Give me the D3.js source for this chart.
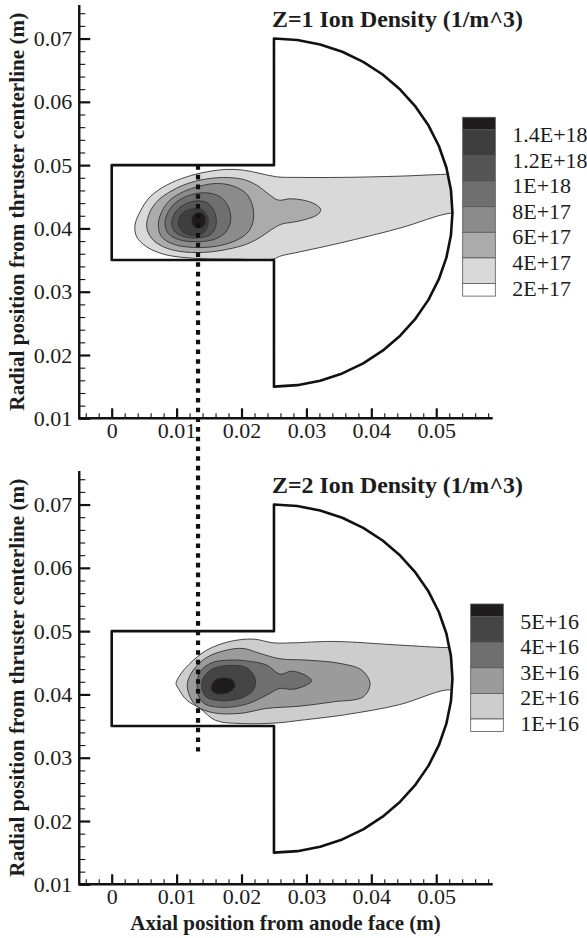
<!DOCTYPE html>
<html>
<head>
<meta charset="utf-8">
<script src="https://cdn.jsdelivr.net/npm/d3@7"></script>
<style>
  html, body { margin: 0; padding: 0; background: #fff; }
  text { font-family: "Liberation Serif", "Times New Roman", serif; fill: #1c1c1c; }
</style>
</head>
<body>
<svg id="chart" width="587" height="938"></svg>
<script>
// ---------- axes (metres) ----------
const xDomain = [-0.005, 0.0587];
const yDomain = [0.01, 0.0753];
const xMajorTicks = [0, 0.01, 0.02, 0.03, 0.04, 0.05];
const xTickLabels = ["0", "0.01", "0.02", "0.03", "0.04", "0.05"];
const xMinorTicks = [-0.004, -0.002, 0.002, 0.004, 0.006, 0.008, 0.012, 0.014, 0.016, 0.018,
  0.022, 0.024, 0.026, 0.028, 0.032, 0.034, 0.036, 0.038, 0.042, 0.044, 0.046, 0.048,
  0.052, 0.054, 0.056, 0.058];
const yMajorTicks = [0.01, 0.02, 0.03, 0.04, 0.05, 0.06, 0.07];
const yTickLabels = ["0.01", "0.02", "0.03", "0.04", "0.05", "0.06", "0.07"];
const yMinorTicks = [0.012, 0.014, 0.016, 0.018, 0.022, 0.024, 0.026, 0.028, 0.032, 0.034,
  0.036, 0.038, 0.042, 0.044, 0.046, 0.048, 0.052, 0.054, 0.056, 0.058, 0.062, 0.064,
  0.066, 0.068, 0.072, 0.074];

// ---------- thruster channel + plume region (mm) ----------
const channelWall = [[25, 70], [25, 50], [0, 50], [0, 35], [25, 35], [25, 15]];
const plumeCenter = [25, 42.5];
const plumeRadius = 27.5;

// probe line (m)
const probeX = 0.0133;
const probeTopY = 0.050;     // upper panel
const probeBottomY = 0.031;  // lower panel

// ---------- Z=1 ion density ----------
const z1Levels = [2e17, 4e17, 6e17, 8e17, 1e18, 1.2e18, 1.4e18];
const z1Labels = ["2E+17", "4E+17", "6E+17", "8E+17", "1E+18", "1.2E+18", "1.4E+18"];
const z1Fills = ["#ffffff", "#d9d9d9", "#ababab", "#8b8b8b", "#6f6f6f", "#555555", "#3e3e3e", "#1f1c1d"];
// iso-outlines (mm), one closed ring per level, outer to inner
const z1Iso = [
  [[3.59,40.52],[4.36,42.62],[5.90,44.99],[8.47,46.84],[11.56,48.15],[14.64,48.94],[17.72,49.32],
   [20.28,49.21],[22.85,48.69],[25.42,48.15],[29.0,48.06],[35.2,48.06],[44.4,48.26],[51.4,48.55],
   [55,48.6],[55,42.3],[52.1,42.4],[44.4,40.05],[35.2,37.7],[29.0,36.3],[25.9,35.6],[24.9,35.15],
   [18.7,35.15],[14.6,35.2],[11.0,35.42],[7.95,35.94],[5.39,37.09],[3.85,38.67]],
  [[5.39,40.26],[5.90,42.63],[7.18,44.47],[8.98,45.79],[11.03,46.84],[13.61,47.63],[17.2,48.05],
   [20.28,47.74],[22.34,46.84],[24.39,45.26],[25.67,44.47],[27.47,44.68],[29.52,44.47],[31.33,43.84],
   [32.2,43.0],[31.83,42.26],[30.05,41.47],[27.98,41.0],[26.19,40.68],[24.65,39.84],[22.85,38.58],
   [20.8,37.52],[17.72,36.68],[14.11,36.21],[10.52,36.37],[7.95,37.1],[6.16,38.42]],
  [[7.18,40.52],[7.7,42.63],[8.98,44.47],[11.03,45.79],[13.61,46.68],[16.18,47.1],[18.74,46.68],
   [20.8,45.42],[21.73,43.42],[21.82,41.31],[21.05,39.47],[19.26,38.15],[16.18,37.2],[12.57,37.0],
   [9.49,37.52],[7.7,38.67]],
  [[8.21,40.79],[8.72,42.63],[10.02,44.2],[12.06,45.26],[14.64,45.63],[16.69,45.0],[17.97,43.42],
   [18.34,41.31],[17.61,39.47],[15.92,38.31],[13.1,37.89],[10.26,38.26],[8.72,39.21]],
  [[9.24,40.79],[9.75,42.47],[11.03,43.68],[13.1,44.36],[14.88,43.95],[15.92,42.37],[16.07,40.52],
   [15.25,39.05],[13.34,38.52],[11.29,38.67],[9.75,39.47]],
  [[10.26,41.04],[10.79,42.26],[12.06,43.0],[13.87,43.0],[14.79,41.83],[14.73,40.16],[13.87,39.1],
   [12.06,38.94],[10.79,39.62]],
  [[12.37,41.58],[12.73,42.26],[13.61,42.53],[14.33,42.1],[14.48,41.04],[14.11,40.25],[13.25,40.05],
   [12.48,40.52]]
];

// ---------- Z=2 ion density ----------
const z2Levels = [1e16, 2e16, 3e16, 4e16, 5e16];
const z2Labels = ["1E+16", "2E+16", "3E+16", "4E+16", "5E+16"];
const z2Fills = ["#ffffff", "#cdcdcd", "#9b9b9b", "#6f6f6f", "#454545", "#1f1c1d"];
const z2Iso = [
  [[9.91,41.73],[10.52,43.05],[12.06,44.9],[14.64,47.0],[18.23,48.37],[21.82,48.74],[24.9,48.15],
   [27.98,48.15],[34.15,48.37],[44.42,47.79],[51.5,47.4],[55,47.4],[55,40.6],[51.5,40.7],[44.4,38.4],
   [36.0,36.8],[29.0,35.9],[25.5,35.5],[20.0,35.4],[16.0,35.9],[13.61,37.79],[11.56,39.1],[10.26,40.95]],
  [[11.65,41.73],[12.57,43.84],[14.64,45.85],[17.72,47.0],[20.28,47.26],[22.85,46.48],[25.93,45.63],
   [30.05,45.42],[35.18,44.9],[38.52,43.84],[39.8,41.73],[38.77,39.63],[34.15,38.83],[29.01,38.15],
   [23.88,37.79],[19.77,37.0],[15.66,37.1],[13.1,38.15],[11.96,39.89]],
  [[13.19,41.73],[13.61,43.58],[15.41,45.0],[18.23,45.42],[21.05,45.26],[23.88,44.63],[25.93,43.21],
   [27.74,43.68],[29.78,43.05],[30.82,42.15],[29.63,41.31],[27.74,40.79],[25.93,40.95],[23.88,39.89],
   [20.8,38.47],[17.2,37.95],[14.38,38.47],[13.34,39.89]],
  [[13.87,41.21],[14.22,42.79],[15.66,44.1],[18.23,44.58],[20.8,44.21],[22.08,42.53],[21.82,40.68],
   [19.77,39.36],[16.69,39.0],[14.53,39.63]],
  [[15.3,41.1],[15.92,42.26],[17.2,42.63],[18.64,42.26],[19.0,41.31],[18.23,40.42],[16.69,40.05],
   [15.56,40.42]]
];

// ---------- drawing ----------
const svg = d3.select("#chart");
svg.append("rect").attr("width", 587).attr("height", 938).attr("fill", "#fff");
const defs = svg.append("defs");
const mm = v => v / 1000;

// boundary of the computational region: channel walls followed by the plume arc
function regionOutline() {
  const pts = channelWall.slice();
  const n = 24;
  for (let k = 1; k <= n; k++) {
    const a = -Math.PI / 2 + Math.PI * k / n;
    pts.push([plumeCenter[0] + plumeRadius * Math.cos(a), plumeCenter[1] + plumeRadius * Math.sin(a)]);
  }
  return pts;
}

const plotLeft = 79.25, plotRight = 492.7, plotH = 413.3;

function drawPanel(cfg) {
  const g = svg.append("g");
  const x = d3.scaleLinear().domain(xDomain).range([plotLeft, plotRight]);
  const y = d3.scaleLinear().domain(yDomain).range([cfg.bottom, cfg.bottom - plotH]);
  const poly = d3.line().x(d => x(mm(d[0]))).y(d => y(mm(d[1])));
  const smooth = d3.line().curve(d3.curveCatmullRomClosed.alpha(0.5))
    .x(d => x(mm(d[0]))).y(d => y(mm(d[1])));

  const outline = regionOutline();
  defs.append("clipPath").attr("id", "clip-" + cfg.id)
    .append("path").attr("d", poly(outline) + "Z");

  // filled contour bands, outer level first
  const cg = g.append("g").attr("clip-path", `url(#clip-${cfg.id})`);
  cfg.iso.forEach((ring, i) => {
    cg.append("path").attr("d", smooth(ring))
      .attr("fill", cfg.fills[i + 1])
      .attr("stroke", "#333").attr("stroke-width", 0.9);
  });

  // region boundary
  g.append("path").attr("d", poly(outline) + "Z")
    .attr("fill", "none").attr("stroke", "#111").attr("stroke-width", 2.6)
    .attr("stroke-linejoin", "round");

  // axes
  const y0 = y(yDomain[0]);
  const xAxis = d3.axisBottom(x).tickValues(xMajorTicks).tickSize(-10).tickSizeOuter(0)
    .tickPadding(4).tickFormat((d, i) => xTickLabels[i]);
  const xMinor = d3.axisBottom(x).tickValues(xMinorTicks).tickSize(-5).tickSizeOuter(0).tickFormat("");
  const yAxis = d3.axisLeft(y).tickValues(yMajorTicks).tickSize(-11).tickSizeOuter(0)
    .tickPadding(7).tickFormat((d, i) => yTickLabels[i]);
  const yMinor = d3.axisLeft(y).tickValues(yMinorTicks).tickSize(-6).tickSizeOuter(0).tickFormat("");

  [[xMinor, `translate(0,${y0})`, 1.1], [xAxis, `translate(0,${y0})`, 2.2],
   [yMinor, `translate(${plotLeft},0)`, 1.1], [yAxis, `translate(${plotLeft},0)`, 2.2]]
    .forEach(([ax, tr, w]) => {
      const a = g.append("g").attr("transform", tr).call(ax);
      a.select(".domain").remove();
      a.selectAll("line").attr("stroke", "#111").attr("stroke-width", w);
      a.selectAll("text").attr("font-size", 22).attr("fill", "#1c1c1c")
        .attr("font-family", '"Liberation Serif", "Times New Roman", serif');
    });
  g.append("line").attr("x1", plotLeft).attr("x2", plotRight).attr("y1", y0).attr("y2", y0)
    .attr("stroke", "#111").attr("stroke-width", 2.4);
  g.append("line").attr("x1", plotLeft).attr("x2", plotLeft)
    .attr("y1", y0 + 1.2).attr("y2", cfg.bottom - plotH)
    .attr("stroke", "#111").attr("stroke-width", 2.4);

  // y-axis title
  g.append("text")
    .attr("transform", `translate(24,${cfg.bottom - plotH / 2}) rotate(-90)`)
    .attr("text-anchor", "middle").attr("font-weight", "bold").attr("font-size", 21)
    .attr("textLength", 398).attr("lengthAdjust", "spacingAndGlyphs")
    .text("Radial position from thruster centerline (m)");

  // panel title
  g.append("text").attr("x", 272).attr("y", cfg.bottom - 391.5)
    .attr("font-weight", "bold").attr("font-size", 23)
    .attr("textLength", 251).attr("lengthAdjust", "spacingAndGlyphs")
    .text(cfg.title);

  // legend: half band at each end, full bands between levels
  const n = cfg.levels.length;
  const bandH = 25.6, half = 12.6;
  const lx = cfg.legendX, ly = cfg.legendTop;
  const lg = g.append("g");
  for (let b = 0; b <= n; b++) {
    // b = 0 is the darkest band (above the highest level)
    const t = b === 0 ? ly : ly + half + (b - 1) * bandH;
    const h = (b === 0 || b === n) ? half : bandH;
    lg.append("rect").attr("x", lx).attr("y", t).attr("width", 32.6).attr("height", h)
      .attr("fill", cfg.fills[n - b]).attr("stroke", "#555").attr("stroke-width", 0.8);
  }
  cfg.labels.slice().reverse().forEach((lab, k) => {
    lg.append("text").attr("x", lx + 49.5).attr("y", ly + half + k * bandH + 12)
      .attr("font-size", 22).text(lab);
  });

  return { x, y };
}

const upperPanel = drawPanel({
  id: "z1", bottom: 418.3, title: "Z=1 Ion Density (1/m^3)",
  levels: z1Levels, labels: z1Labels, fills: z1Fills, iso: z1Iso,
  legendX: 462.7, legendTop: 117.3
});
const lowerPanel = drawPanel({
  id: "z2", bottom: 884.3, title: "Z=2 Ion Density (1/m^3)",
  levels: z2Levels, labels: z2Labels, fills: z2Fills, iso: z2Iso,
  legendX: 470.7, legendTop: 604
});

// probe line through both panels
svg.append("line")
  .attr("x1", upperPanel.x(probeX)).attr("x2", upperPanel.x(probeX))
  .attr("y1", upperPanel.y(probeTopY)).attr("y2", lowerPanel.y(probeBottomY))
  .attr("stroke", "#111").attr("stroke-width", 4.2).attr("stroke-dasharray", "4.6 5.1");

// x-axis title
svg.append("text").attr("x", 285.5).attr("y", 930)
  .attr("text-anchor", "middle").attr("font-weight", "bold").attr("font-size", 21)
  .text("Axial position from anode face (m)");
</script>
</body>
</html>
